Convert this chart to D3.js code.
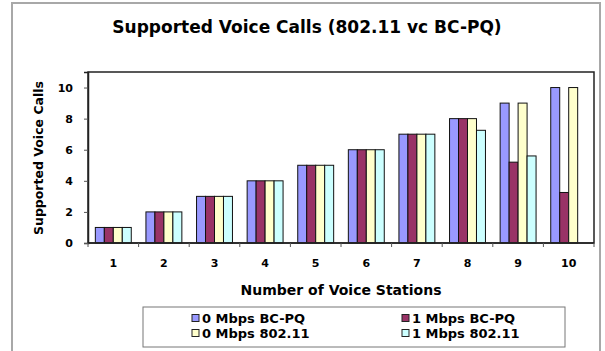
<!DOCTYPE html>
<html>
<head>
<meta charset="utf-8">
<script src="https://cdn.jsdelivr.net/npm/d3@7/dist/d3.min.js"></script>
<style>
  body { margin: 0; background: #fff; }
  text { font-family: "DejaVu Sans", sans-serif; font-weight: bold; fill: #000; }
</style>
</head>
<body>
<svg id="chart" width="605" height="351"></svg>
<script>
// data
let stations = ['1', '2', '3', '4', '5', '6', '7', '8', '9', '10'];
let seriesNames = ['0 Mbps BC-PQ', '1 Mbps BC-PQ', '0 Mbps 802.11', '1 Mbps 802.11'];
let bcpq0 = [1, 2, 3, 4, 5, 6, 7, 8, 9, 10];
let bcpq1 = [1, 2, 3, 4, 5, 6, 7, 8, 5.2, 3.25];
let wifi0 = [1, 2, 3, 4, 5, 6, 7, 8, 9, 10];
let wifi1 = [1, 2, 3, 4, 5, 6, 7, 7.25, 5.6, 0];
let yTicks = [0, 2, 4, 6, 8, 10];
let colors = ['#9999ff', '#993366', '#ffffcc', '#ccffff'];

let svg = d3.select('#chart');

//外框
svg.append('rect')
    .attr('x', 12).attr('y', 3)
    .attr('width', 588).attr('height', 350)
    .attr('fill', '#fff')
    .attr('stroke', '#a8a8a8')
    .attr('stroke-width', 2);

//标题
svg.append('text')
    .attr('x', 307).attr('y', 33)
    .attr('text-anchor', 'middle')
    .style('font-size', '17px')
    .text('Supported Voice Calls (802.11 vc BC-PQ)');

let pLeft = 88, pRight = 594, pTop = 72, pBottom = 243;

let xScale = d3.scaleBand()
    .domain(stations)
    .range([pLeft, pRight])
    .paddingInner(0.29)
    .paddingOuter(0.145);
let xSub = d3.scaleBand()
    .domain(d3.range(seriesNames.length))
    .range([0, xScale.bandwidth()]);
let yScale = d3.scaleLinear().domain([0, 11]).range([pBottom, pTop]);

let table = stations.map(function (s, i) {
    return {station: s, values: [bcpq0[i], bcpq1[i], wifi0[i], wifi1[i]]};
});

//柱子
let groups = svg.append('g').selectAll('g')
    .data(table)
    .enter()
    .append('g')
    .attr('transform', function (d) { return 'translate(' + xScale(d.station) + ',0)'; });
groups.selectAll('rect')
    .data(function (d) {
        return d.values.map(function (v, k) { return {k: k, v: v}; })
            .filter(function (e) { return e.v > 0; });
    })
    .enter()
    .append('rect')
    .attr('x', function (d) { return xSub(d.k); })
    .attr('y', function (d) { return yScale(d.v); })
    .attr('width', xSub.bandwidth())
    .attr('height', function (d) { return pBottom - yScale(d.v); })
    .attr('fill', function (d) { return colors[d.k]; })
    .attr('stroke', '#111')
    .attr('stroke-width', 1);

//绘图区边框
svg.append('rect')
    .attr('x', pLeft).attr('y', pTop)
    .attr('width', pRight - pLeft).attr('height', pBottom - pTop)
    .attr('fill', 'none')
    .attr('stroke', '#222')
    .attr('stroke-width', 1.5);

//y轴
let yAxis = svg.append('g')
    .attr('transform', 'translate(' + pLeft + ',0)')
    .call(d3.axisLeft(yScale).tickValues(yTicks).tickSize(4).tickPadding(11));
yAxis.select('.domain').attr('stroke', '#222').attr('stroke-width', 1.5);
yAxis.selectAll('line').attr('stroke', '#555');
yAxis.selectAll('text').style('font-size', '11px');
yAxis.attr('font-family', null).attr('font-size', null);

//x轴，刻度在类别之间
let xAxis = svg.append('g')
    .attr('transform', 'translate(0,' + pBottom + ')');
xAxis.append('line')
    .attr('x1', pLeft).attr('x2', pRight)
    .attr('stroke', '#222').attr('stroke-width', 1.5);
let step = xScale.step();
xAxis.selectAll('line.tick')
    .data(d3.range(stations.length + 1))
    .enter()
    .append('line')
    .attr('class', 'tick')
    .attr('x1', function (i) { return pLeft + i * step; })
    .attr('x2', function (i) { return pLeft + i * step; })
    .attr('y1', 0).attr('y2', 4)
    .attr('stroke', '#555');
xAxis.selectAll('text')
    .data(stations)
    .enter()
    .append('text')
    .attr('x', function (d) { return xScale(d) + xScale.bandwidth() / 2; })
    .attr('y', 24)
    .attr('text-anchor', 'middle')
    .style('font-size', '11px')
    .text(function (d) { return d; });

//轴标题
svg.append('text')
    .attr('x', (pLeft + pRight) / 2).attr('y', 295)
    .attr('text-anchor', 'middle')
    .style('font-size', '14px')
    .text('Number of Voice Stations');
svg.append('text')
    .attr('transform', 'translate(43,158) rotate(-90)')
    .attr('text-anchor', 'middle')
    .style('font-size', '12.5px')
    .text('Supported Voice Calls');

//图例
svg.append('rect')
    .attr('x', 143).attr('y', 307)
    .attr('width', 422).attr('height', 40)
    .attr('fill', '#fff')
    .attr('stroke', '#777')
    .attr('stroke-width', 1);
let legendPos = [[192, 318], [402, 318], [192, 333], [402, 333]];
let items = svg.append('g').selectAll('g')
    .data(seriesNames)
    .enter()
    .append('g')
    .attr('transform', function (d, i) { return 'translate(' + legendPos[i][0] + ',' + legendPos[i][1] + ')'; });
items.append('rect')
    .attr('x', 0).attr('y', -3.5)
    .attr('width', 7).attr('height', 7)
    .attr('fill', function (d, i) { return colors[i]; })
    .attr('stroke', '#222')
    .attr('stroke-width', 1);
items.append('text')
    .attr('x', 10).attr('y', 4.5)
    .style('font-size', '13px')
    .text(function (d) { return d; });
</script>
</body>
</html>
